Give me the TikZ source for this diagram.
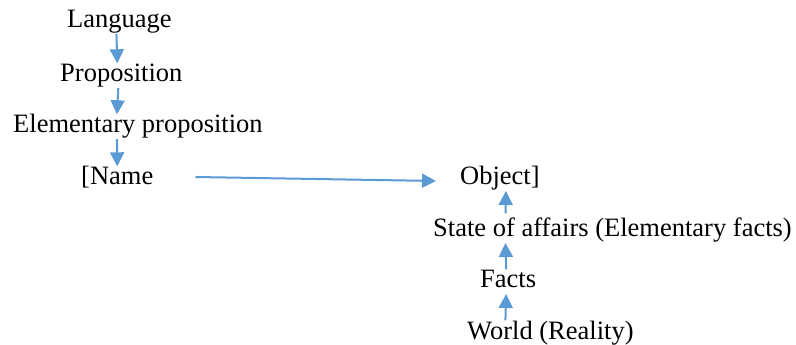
\documentclass[tikz,border=0pt]{standalone}
\usepackage{fontspec}
\setmainfont{Liberation Serif}
\usetikzlibrary{arrows.meta}
\definecolor{arrblue}{HTML}{5B9BD5}
\begin{document}
\begin{tikzpicture}[x=1pt,y=1pt,
  lbl/.style={inner sep=0pt,anchor=base west,font=\fontsize{26.5}{30}\selectfont,text height=18.5pt,text depth=5.8pt},
  arr/.style={draw=arrblue,line width=2pt,-{Triangle[width=14pt,length=14pt]},arrblue}]
\useasboundingbox (0,0) rectangle (796,345);
\node[lbl] (lang)  at (67,345-28)  {Language};
\node[lbl] (prop)  at (60,345-82)  {Proposition};
\node[lbl] (elem)  at (13,345-133) {Elementary proposition};
\node[lbl] (name)  at (81,345-185) {[Name};
\node[lbl] (obj)   at (460,345-185) {Object]};
\node[lbl] (state) at (433,345-237) {State of affairs (Elementary facts)};
\node[lbl] (facts) at (480,345-288) {Facts};
\node[lbl] (world) at (467,345-340) {World (Reality)};
\draw[arr] ([xshift=-3pt]lang.south) -- ([xshift=-4pt]prop.north);
\draw[arr] ([xshift=-3pt]prop.south) -- ([xshift=-21pt]elem.north);
\draw[arr] ([xshift=-21pt]elem.south) -- ([xshift=0pt]name.north);
\draw[arr] ([xshift=42pt,yshift=8pt]name.base east) -- ([xshift=-24pt,yshift=4pt]obj.base west);
\draw[arr,shorten <=5pt] ([xshift=-107pt]state.north) -- ([xshift=6pt]obj.south);
\draw[arr] ([xshift=-2pt]facts.north) -- ([xshift=-107pt]state.south);
\draw[arr,shorten <=1pt] ([xshift=-45pt]world.north) -- ([xshift=-2pt]facts.south);
\end{tikzpicture}
\end{document}
